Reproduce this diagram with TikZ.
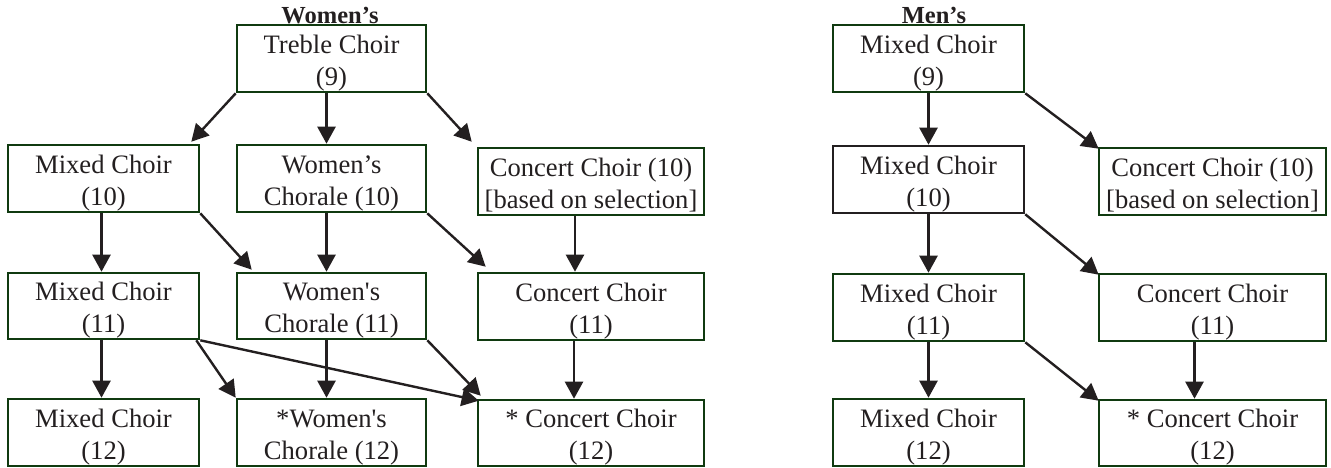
\documentclass[tikz,border=0pt]{standalone}
\usepackage{fontspec}
\setmainfont{Liberation Serif}
\usetikzlibrary{arrows.meta}
\definecolor{boxgreen}{RGB}{16,58,16}
\definecolor{inkgray}{RGB}{35,31,32}
% first line pushed down a little, second line given a fixed depth
\newcommand{\twolines}[2]{\rule{0pt}{27pt}#1\\\relax#2\rule[-6pt]{0pt}{6pt}}

\begin{document}
\begin{tikzpicture}[x=1pt,y=-1pt,
  choir/.style={draw=boxgreen,line width=2.6pt,align=center,inner sep=0pt,
    minimum height=67pt,text=inkgray,font=\fontsize{26.6}{32}\selectfont},
  heading/.style={anchor=base,text=inkgray,font=\bfseries\fontsize{24.5}{28}\selectfont},
  link/.style={draw=inkgray,line width=2.4pt,-{Triangle[length=17pt,width=18pt]}}]
\useasboundingbox (0,0) rectangle (1331,467);

% Women's side
\node[heading] (womenhead) at (330,23) {Women’s};
\node[choir,minimum width=189pt] (treble) at (331.5,58.5) {\twolines{Treble Choir}{(9)}};

\node[choir,minimum width=191pt] (wmix10) at (103.5,178.5) {\twolines{Mixed Choir}{(10)}};
\node[choir,minimum width=189pt] (wcho10) at (331.5,178.5) {\twolines{Women’s}{Chorale (10)}};
\node[choir,minimum width=226pt] (wcon10) at (591,181.5) {\twolines{Concert Choir (10)}{[based on selection]}};

\node[choir,minimum width=191pt,minimum height=66pt] (wmix11) at (103.5,306) {\twolines{Mixed Choir}{(11)}};
\node[choir,minimum width=189pt,minimum height=66pt] (wcho11) at (331.5,306) {\twolines{Women\textquotesingle s}{Chorale (11)}};
\node[choir,minimum width=226pt] (wcon11) at (591,306.5) {\twolines{Concert Choir}{(11)}};

\node[choir,minimum width=191pt] (wmix12) at (103.5,432.5) {\twolines{Mixed Choir}{(12)}};
\node[choir,minimum width=189pt] (wcho12) at (331.5,432.5) {\twolines{*Women\textquotesingle s}{Chorale (12)}};
\node[choir,minimum width=226pt,minimum height=66pt] (wcon12) at (591,433) {\twolines{* Concert Choir}{(12)}};

\draw[link] (treble.south west) -- ([shift={(-9,-2)}]wmix10.north east);
\draw[link] ([xshift=-5pt]treble.south) -- ([xshift=-5pt]wcho10.north);
\draw[link] (treble.south east) -- ([shift={(-5,-5)}]wcon10.north west);

\draw[link] ([xshift=-2pt]wmix10.south) -- ([xshift=-2pt]wmix11.north);
\draw[link] (wmix10.south east) -- ([shift={(16,-2)}]wcho11.north west);
\draw[link] ([xshift=-5pt]wcho10.south) -- ([xshift=-5pt]wcho11.north);
\draw[link] (wcho10.south east) -- ([shift={(9,-5)}]wcon11.north west);
\draw[link] ([xshift=-16pt]wcon10.south) -- ([xshift=-16pt]wcon11.north);

\draw[link] ([xshift=-2pt]wmix11.south) -- ([xshift=-2pt]wmix12.north);
\draw[link] ([xshift=-4pt]wmix11.south east) -- (wcho12.north west);
\draw[link] (wmix11.south east) -- ([shift={(2,2)}]wcon12.north west);
\draw[link] ([xshift=-5pt]wcho11.south) -- ([xshift=-5pt]wcho12.north);
\draw[link] (wcho11.south east) -- ([shift={(4,-3)}]wcon12.north west);
\draw[link] ([xshift=-17pt]wcon11.south) -- ([xshift=-17pt]wcon12.north);

% Men's side
\node[heading] (menhead) at (934,23) {Men’s};
\node[choir,minimum width=191pt] (mmix9) at (928.5,58.5) {\twolines{Mixed Choir}{(9)}};

\node[choir,draw=inkgray,minimum width=191pt] (mmix10) at (928.5,179.5) {\twolines{Mixed Choir}{(10)}};
\node[choir,minimum width=227pt] (mcon10) at (1212.5,181.5) {\twolines{Concert Choir (10)}{[based on selection]}};

\node[choir,minimum width=191pt] (mmix11) at (928.5,307.5) {\twolines{Mixed Choir}{(11)}};
\node[choir,minimum width=227pt] (mcon11) at (1212.5,307.5) {\twolines{Concert Choir}{(11)}};

\node[choir,minimum width=191pt] (mmix12) at (928.5,432.5) {\twolines{Mixed Choir}{(12)}};
\node[choir,minimum width=227pt,minimum height=66pt] (mcon12) at (1212.5,433) {\twolines{* Concert Choir}{(12)}};

\draw[link] (mmix9.south) -- (mmix10.north);
\draw[link] (mmix9.south east) -- ([shift={(1,2)}]mcon10.north west);
\draw[link] (mmix10.south) -- (mmix11.north);
\draw[link] (mmix10.south east) -- ([shift={(1,2)}]mcon11.north west);
\draw[link] (mmix11.south) -- (mmix12.north);
\draw[link] (mmix11.south east) -- ([shift={(1,2)}]mcon12.north west);
\draw[link] ([xshift=-18pt]mcon11.south) -- ([xshift=-18pt]mcon12.north);

\end{tikzpicture}
\end{document}
